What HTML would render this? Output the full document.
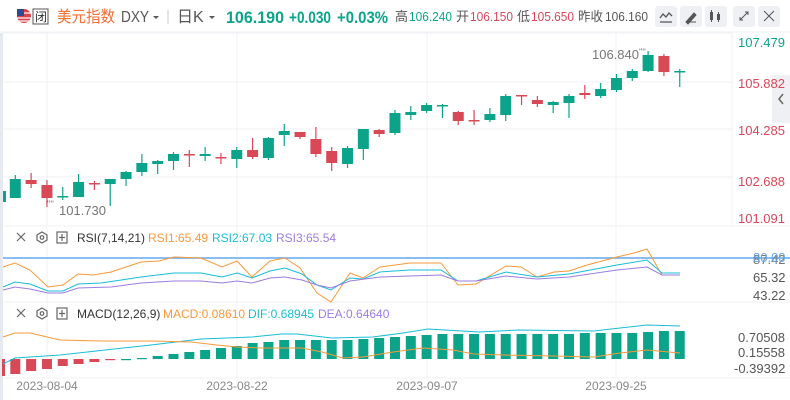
<!DOCTYPE html>
<html><head><meta charset="utf-8">
<style>
body{margin:0;width:790px;height:400px;background:#fff;overflow:hidden;font-family:"Liberation Sans","Noto Sans CJK SC",sans-serif;}
svg{position:absolute;left:0;top:0}
</style></head><body>
<svg id="s" width="790" height="400" xmlns="http://www.w3.org/2000/svg" font-family="Liberation Sans, Noto Sans CJK SC, sans-serif">
<rect x="0" y="0" width="790" height="400" fill="#fff"/>
<!-- header -->
<line x1="0" y1="32" x2="790" y2="32" stroke="#eef0f3"/>
<circle cx="24" cy="16" r="7" fill="#d8424b"/>
<rect x="17" y="9" width="7" height="7" fill="#2d4a8f"/>
<line x1="24" y1="13" x2="31" y2="13" stroke="#fff" stroke-width="1.2"/>
<line x1="17" y1="18" x2="31" y2="18" stroke="#fff" stroke-width="1.2"/>
<line x1="18" y1="21" x2="30" y2="21" stroke="#fff" stroke-width="1.2"/>
<rect x="33" y="9" width="15" height="15" fill="#fff" stroke="#555"/>
<text x="35" y="21" font-size="12" fill="#333">闭</text>
<text x="57" y="22" font-size="16" fill="#f26f36" textLength="58" lengthAdjust="spacingAndGlyphs">美元指数</text>
<text x="121" y="22" font-size="16" fill="#555" textLength="28" lengthAdjust="spacingAndGlyphs">DXY</text>
<path d="M153 16l3 3 3-3z" fill="#555"/>
<line x1="168" y1="10" x2="168" y2="24" stroke="#ccc"/>
<text x="177" y="22" font-size="16" fill="#555">日K</text>
<path d="M209 16l3 3 3-3z" fill="#555"/>
<text x="226" y="23" font-size="17" font-weight="bold" fill="#0ba48a" textLength="58" lengthAdjust="spacingAndGlyphs">106.190</text>
<text x="289" y="23" font-size="17" font-weight="bold" fill="#0ba48a" textLength="42" lengthAdjust="spacingAndGlyphs">+0.030</text>
<text x="337" y="23" font-size="17" font-weight="bold" fill="#0ba48a" textLength="51" lengthAdjust="spacingAndGlyphs">+0.03%</text>
<text x="395" y="21" font-size="13" fill="#555">高</text>
<text x="409" y="21" font-size="13" fill="#0ba48a" textLength="43" lengthAdjust="spacingAndGlyphs">106.240</text>
<text x="456" y="21" font-size="13" fill="#555">开</text>
<text x="470" y="21" font-size="13" fill="#d84856" textLength="43" lengthAdjust="spacingAndGlyphs">106.150</text>
<text x="517" y="21" font-size="13" fill="#555">低</text>
<text x="531" y="21" font-size="13" fill="#d84856" textLength="43" lengthAdjust="spacingAndGlyphs">105.650</text>
<text x="578" y="21" font-size="13" fill="#555" textLength="25" lengthAdjust="spacingAndGlyphs">昨收</text>
<text x="605" y="21" font-size="13" fill="#555" textLength="43" lengthAdjust="spacingAndGlyphs">106.160</text>
<g fill="#eef0f4">
<rect x="655" y="6" width="22" height="21" rx="3"/><rect x="680" y="6" width="22" height="21" rx="3"/><rect x="705" y="6" width="22" height="21" rx="3"/><rect x="733" y="6" width="22" height="21" rx="3"/><rect x="758" y="6" width="22" height="21" rx="3"/></g>
<path d="M660 18l3-4 3 3 3-4 3 3M660 22h12" stroke="#555" fill="none" stroke-width="1.3"/>
<path d="M686 22l8-9 2 2-8 9zM686 22h10" stroke="#555" fill="#555" stroke-width="1"/>
<rect x="710" y="12" width="3" height="8" fill="#555"/><rect x="717" y="14" width="3" height="6" fill="#555"/><line x1="711.5" y1="10" x2="711.5" y2="22" stroke="#555"/><line x1="718.5" y1="12" x2="718.5" y2="22" stroke="#555"/>
<path d="M740 20l8-8M745 12h3v3M740 17v3h3" stroke="#555" fill="none"/>
<path d="M764 11l10 10M774 11l-10 10" stroke="#555"/>
<line x1="0" y1="33" x2="0" y2="400" stroke="#e6e9ee" stroke-width="6"/>
<!-- main grid -->
<g stroke="#f0f2f5" stroke-width="1">
<line x1="3" y1="33" x2="732" y2="33"/><line x1="3" y1="82" x2="732" y2="82"/><line x1="3" y1="129" x2="732" y2="129"/><line x1="3" y1="177" x2="732" y2="177"/><line x1="3" y1="226" x2="790" y2="226"/>
<line x1="47" y1="33" x2="47" y2="378"/><line x1="237" y1="33" x2="237" y2="378"/><line x1="427" y1="33" x2="427" y2="378"/><line x1="616" y1="33" x2="616" y2="378"/>
<line x1="732" y1="33" x2="732" y2="226"/>
<line x1="3" y1="302" x2="790" y2="302"/><line x1="3" y1="378" x2="790" y2="378"/>
</g>
<rect x="772" y="75" width="18" height="48" fill="#eef0f3"/>
<path d="M783 94l-4 5 4 5" stroke="#666" fill="none" stroke-width="1.5"/>
<g font-size="13">
<text x="738" y="47" fill="#0ba48a">107.479</text>
<text x="738" y="88" fill="#d84856">105.882</text>
<text x="738" y="135" fill="#d84856">104.285</text>
<text x="738" y="186" fill="#d84856">102.688</text>
<text x="738" y="223" fill="#d84856">101.091</text>
</g>
<text x="59" y="215" font-size="13" fill="#777">101.730</text>
<text x="47" y="207" font-size="9" fill="#777">''''</text>
<text x="592" y="59" font-size="13" fill="#777">106.840</text>
<text x="639" y="55" font-size="9" fill="#777">''''</text>
<g id="candles"></g>
<!-- RSI -->
<g stroke="#666" fill="none" stroke-width="1.2">
<path d="M17 233l8 8M25 233l-8 8"/><path d="M42 232l5 3v5l-5 3-5-3v-5z"/><circle cx="42" cy="237.5" r="1.8"/>
<rect x="57" y="232" width="10" height="11"/><path d="M62 234v7M59 237.5h6"/>
<path d="M17 309l8 8M25 309l-8 8"/><path d="M42 308l5 3v5l-5 3-5-3v-5z"/><circle cx="42" cy="313.5" r="1.8"/>
<rect x="57" y="308" width="10" height="11"/><path d="M62 310v7M59 313.5h6"/>
</g>
<g font-size="12">
<text x="77" y="242" fill="#333">RSI(7,14,21)</text>
<text x="148" y="242" fill="#f7993a">RSI1:65.49</text>
<text x="212" y="242" fill="#19bcd6">RSI2:67.03</text>
<text x="276" y="242" fill="#9b7de0">RSI3:65.54</text>
<text x="77" y="318" fill="#333">MACD(12,26,9)</text>
<text x="163" y="318" fill="#f7993a">MACD:0.08610</text>
<text x="248" y="318" fill="#19bcd6">DIF:0.68945</text>
<text x="318" y="318" fill="#9b7de0">DEA:0.64640</text>
</g>
<line x1="3" y1="258" x2="790" y2="258" stroke="#64a8ee" stroke-width="1.5"/>
<g font-size="13" fill="#555">
<text x="753" y="264" fill="#777">87.42</text>
<text x="753" y="262" fill="#64a8ee">80.00</text>
<text x="753" y="282">65.32</text>
<text x="753" y="300">43.22</text>
<text x="738" y="342">0.70508</text>
<text x="738" y="357">0.15558</text>
<text x="734" y="373">-0.39392</text>
</g>
<g fill="none" stroke-width="1">
<polyline stroke="#f7993a" points="3,267 15,263 30,270 48,287 63,285 78,274 93,275 111,272 141,262 159,261 174,257 201,258 222,267 237,261 252,277 270,261 285,258 300,268 317,293 331,302 350,273 363,278 380,267 410,263 441,263 458,285 476,284 506,266 521,267 537,277 554,272 569,271 587,265 617,257 634,253 647,249 662,275 680,275"/>
<polyline stroke="#19bcd6" points="3,287 15,282 30,284 48,291 63,291 78,284 101,283 141,277 174,273 201,273 222,277 237,273 252,278 270,271 285,268 302,274 317,285 331,290 350,278 363,279 380,272 410,270 441,270 458,281 476,281 506,272 537,277 569,274 617,265 647,260 662,273 680,273"/>
<polyline stroke="#9b7de0" points="3,290 15,287 30,289 48,293 63,293 78,288 111,287 141,283 174,281 201,281 222,283 237,281 252,283 270,278 285,277 302,280 317,285 331,288 350,281 380,277 410,276 441,275 458,281 476,281 506,276 537,279 569,277 617,270 647,267 662,275 680,275"/>
</g>
<g id="macd"></g>
<g fill="none" stroke-width="1">
<polyline stroke="#19bcd6" points="3,364 15,358 60,355 151,345 201,339 252,337 282,334 297,334 332,338 373,337 403,333 428,329 479,332 519,330 594,331 620,328 647,325 680,326"/>
<polyline stroke="#f7993a" points="3,337 15,333 30,333 60,340 101,341 151,341 191,342 217,345 237,347 262,348 302,348 322,352 343,358 363,357 393,352 423,348 453,350 474,354 504,355 554,356 594,357 620,353 647,350 680,353"/>
</g>
<g font-size="12" fill="#888" text-anchor="middle">
<text x="47" y="390">2023-08-04</text><text x="237" y="390">2023-08-22</text><text x="427" y="390">2023-09-07</text><text x="616" y="390">2023-09-25</text>
</g>
</svg>
<script>
var G="#0ba48a",R="#d84856";
var c=[["g",179,198,175,198],["r",180,184,173,188],["r",185,198,180,207],["g",196,197,187,200],["g",182,197,174,197],["r",183,184,181,190],["g",179,184,179,206],["g",172,179,171,186],["g",163,172,154,176],["g",161,164,160,174],["g",154,161,152,170],["r",154,155,150,167],["g",154,156,147,161],["r",157,158,153,164],["g",150,159,147,168],["r",150,157,138,159],["g",138,158,137,160],["g",131,135,124,146],["r",132,137,132,139],["r",139,154,127,157],["r",151,163,147,171],["g",148,164,146,168],["g",129,149,129,160],["r",130,134,129,137],["g",113,133,110,135],["g",112,115,106,120],["g",105,111,103,113],["g",105,106,104,118],["r",112,121,111,125],["r",120,121,110,125],["g",114,120,108,122],["g",96,115,94,121],["r",95,96,95,105],["r",100,104,96,107],["g",102,105,101,113],["g",96,103,94,118],["r",93,95,85,99],["g",89,96,83,98],["g",78,90,74,92],["g",71,78,69,81],["g",55,71,51,72],["r",56,72,54,76],["g",71,72,69,87]];
var h='<rect x="3" y="191" width="3" height="11" fill="'+G+'"/>';
c.forEach(function(d,i){var x=15.3+15.82*i,col=d[0]=="g"?G:R;
h+='<line x1="'+x+'" y1="'+d[3]+'" x2="'+x+'" y2="'+d[4]+'" stroke="'+col+'" stroke-width="1.2"/>';
h+='<rect x="'+(x-5.5)+'" y="'+d[1]+'" width="11" height="'+Math.max(1.5,d[2]-d[1])+'" fill="'+col+'"/>';});
document.getElementById("candles").innerHTML=h;
var m=[374,371,369,366,364,362,360,359,358,356,354,352,350,348,346,343,342,340,340,340,340,340,339,338,337,336,335,334,334,334,334,334,334,334,334,334,333,333,333,333,332,331,331];
h='<rect x="2" y="359" width="3" height="17" fill="'+R+'"/>';
m.forEach(function(v,i){var x=15.3+15.82*i,col=v>359?R:G,t=Math.min(v,359),hh=Math.max(1.2,Math.abs(v-359));
h+='<rect x="'+(x-5)+'" y="'+t+'" width="10" height="'+hh+'" fill="'+col+'"/>';});
document.getElementById("macd").innerHTML=h;
</script>
</body></html>
